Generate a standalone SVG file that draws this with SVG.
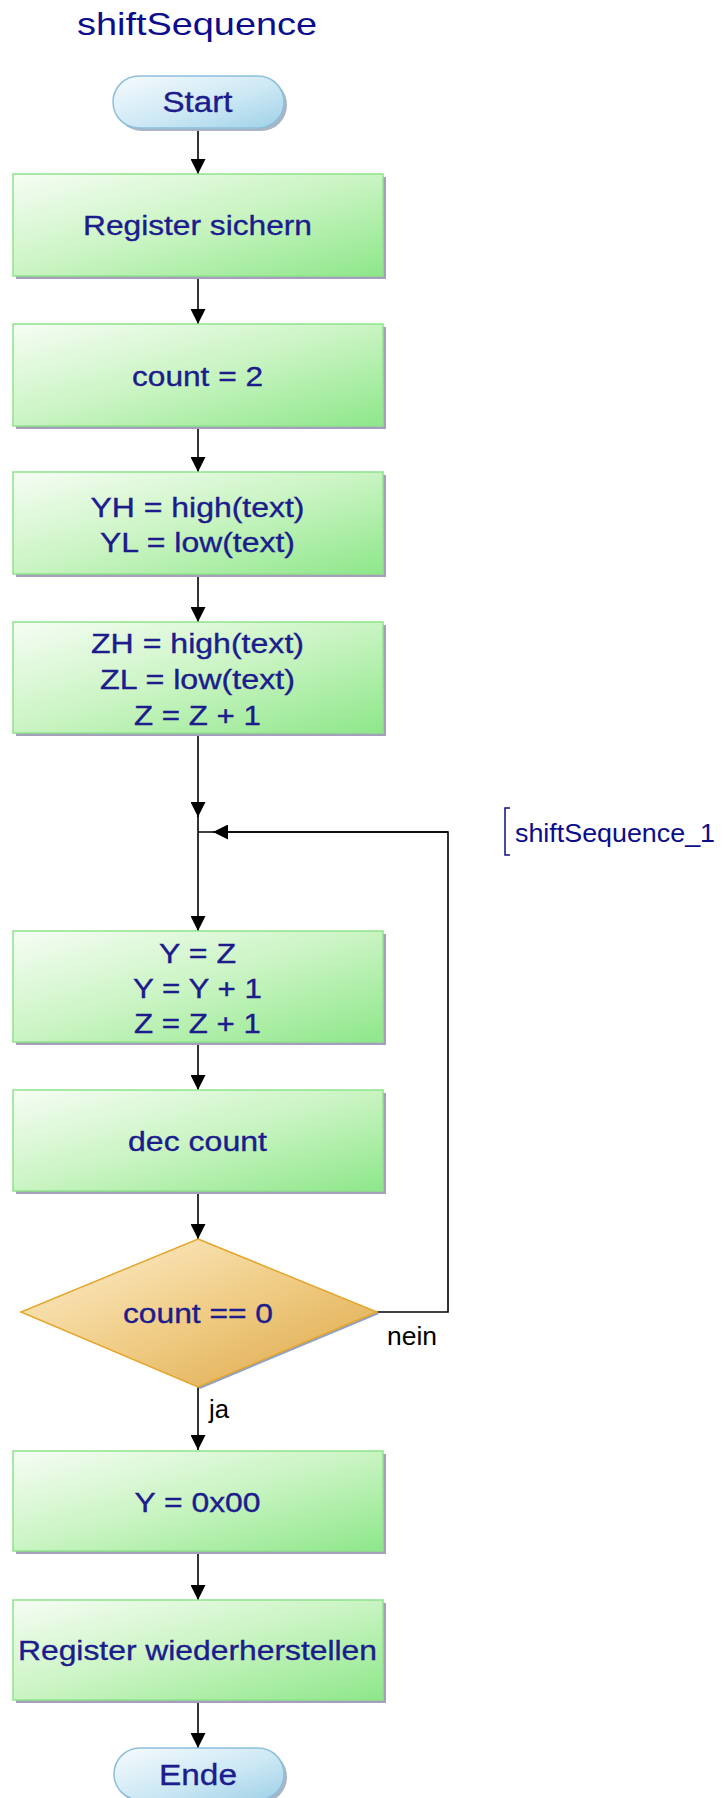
<svg xmlns="http://www.w3.org/2000/svg" width="725" height="1798" viewBox="0 0 725 1798">
  <defs>
    <linearGradient id="gProc" x1="0" y1="0" x2="1" y2="1">
      <stop offset="0" stop-color="#f6fdf4"/>
      <stop offset="0.5" stop-color="#c9f4c2"/>
      <stop offset="1" stop-color="#8ee78a"/>
    </linearGradient>
    <linearGradient id="gTerm" x1="0" y1="0" x2="1" y2="1">
      <stop offset="0" stop-color="#f6fbfe"/>
      <stop offset="0.55" stop-color="#cde8f4"/>
      <stop offset="1" stop-color="#9fd1e8"/>
    </linearGradient>
    <linearGradient id="gDec" x1="0" y1="0" x2="1" y2="1">
      <stop offset="0" stop-color="#fdf0d2"/>
      <stop offset="0.5" stop-color="#f0cd86"/>
      <stop offset="1" stop-color="#dca646"/>
    </linearGradient>
    <marker id="arrow" viewBox="0 0 15 15" refX="15" refY="7.5" markerWidth="15" markerHeight="15" markerUnits="userSpaceOnUse" orient="auto">
      <path d="M0,0 L15,7.5 L0,15 Z" fill="#000"/>
    </marker>
  </defs>
  <style>
    .proc { fill: url(#gProc); stroke: #8fe48b; stroke-width: 1.5; }
    .term { fill: url(#gTerm); stroke: #8dbfdc; stroke-width: 1.5; }
    .dec { fill: url(#gDec); stroke: #e6a52c; stroke-width: 1.5; }
    .shadow { fill: #a49fbb; }
    .tshadow { fill: #a9b4c4; }
    .lbl { font-family: "Liberation Sans", Arial, sans-serif; font-size: 27.5px; fill: #1c1c8c; stroke: #1c1c8c; stroke-width: 0.35; text-anchor: middle; }
    .tlbl { font-family: "Liberation Sans", Arial, sans-serif; font-size: 30px; fill: #1c1c8c; stroke: #1c1c8c; stroke-width: 0.35; text-anchor: middle; }
    .edge { fill: none; stroke: #000; stroke-width: 1.6; }
    .elbl { font-family: "Liberation Sans", Arial, sans-serif; font-size: 26px; fill: #000; }
    .title { font-family: "Liberation Sans", Arial, sans-serif; font-size: 32px; fill: #0c0c8c; }
    .ref { font-family: "Liberation Sans", Arial, sans-serif; font-size: 25px; fill: #0c0c8c; }
  </style>
  <rect width="725" height="1798" fill="#fff"/>

  <text class="title" x="77" y="35" textLength="240" lengthAdjust="spacingAndGlyphs">shiftSequence</text>

  <!-- connectors -->
  <g id="connectors">
    <path class="edge" d="M198,128 V174" marker-end="url(#arrow)"/>
    <path class="edge" d="M198,276 V324" marker-end="url(#arrow)"/>
    <path class="edge" d="M198,426 V472" marker-end="url(#arrow)"/>
    <path class="edge" d="M198,574 V622" marker-end="url(#arrow)"/>
    <path class="edge" d="M198,733 V817" marker-end="url(#arrow)"/>
    <path class="edge" d="M198,815 V832"/>
    <path class="edge" d="M198,832 V931" marker-end="url(#arrow)"/>
    <path class="edge" d="M198,1042 V1090" marker-end="url(#arrow)"/>
    <path class="edge" d="M198,1191 V1239" marker-end="url(#arrow)"/>
    <path class="edge" d="M198,1387 V1450" marker-end="url(#arrow)"/>
    <path class="edge" d="M198,1551 V1600" marker-end="url(#arrow)"/>
    <path class="edge" d="M198,1700 V1748" marker-end="url(#arrow)"/>
    <path class="edge" d="M377,1312 H448 V832 H198"/>
    <path class="edge" d="M448,832 H213" marker-end="url(#arrow)"/>
    <text class="elbl" x="387" y="1345" textLength="50" lengthAdjust="spacingAndGlyphs">nein</text>
    <text class="elbl" x="209" y="1418" textLength="20" lengthAdjust="spacingAndGlyphs">ja</text>
  </g>

  <g id="start">
    <rect class="tshadow" x="116" y="79" width="171" height="52" rx="26"/>
    <rect class="term" x="113" y="76" width="171" height="52" rx="26"/>
    <text class="tlbl" x="197.5" y="112" textLength="70" lengthAdjust="spacingAndGlyphs">Start</text>
  </g>

  <g id="register-sichern">
    <rect class="shadow" x="16" y="177" width="370" height="102"/>
    <rect class="proc" x="13" y="174" width="370" height="102"/>
    <text class="lbl" x="197.5" y="235" textLength="229" lengthAdjust="spacingAndGlyphs">Register sichern</text>
  </g>

  <g id="count-init">
    <rect class="shadow" x="16" y="327" width="370" height="102"/>
    <rect class="proc" x="13" y="324" width="370" height="102"/>
    <text class="lbl" x="197.5" y="386" textLength="131" lengthAdjust="spacingAndGlyphs">count = 2</text>
  </g>

  <g id="y-init">
    <rect class="shadow" x="16" y="475" width="370" height="102"/>
    <rect class="proc" x="13" y="472" width="370" height="102"/>
    <text class="lbl" x="197.5" y="517" textLength="214" lengthAdjust="spacingAndGlyphs">YH = high(text)</text>
    <text class="lbl" x="197.5" y="552" textLength="195" lengthAdjust="spacingAndGlyphs">YL = low(text)</text>
  </g>

  <g id="z-init">
    <rect class="shadow" x="16" y="625" width="370" height="111"/>
    <rect class="proc" x="13" y="622" width="370" height="111"/>
    <text class="lbl" x="197.5" y="653" textLength="213" lengthAdjust="spacingAndGlyphs">ZH = high(text)</text>
    <text class="lbl" x="197.5" y="689" textLength="195" lengthAdjust="spacingAndGlyphs">ZL = low(text)</text>
    <text class="lbl" x="197.5" y="725" textLength="127" lengthAdjust="spacingAndGlyphs">Z = Z + 1</text>
  </g>

  <g id="loop-label">
    <path d="M510,808 H505 V855 H510" fill="none" stroke="#0c0c8c" stroke-width="1.5"/>
    <text class="ref" x="515" y="842" textLength="200" lengthAdjust="spacingAndGlyphs">shiftSequence_1</text>
  </g>

  <g id="shift-step">
    <rect class="shadow" x="16" y="934" width="370" height="111"/>
    <rect class="proc" x="13" y="931" width="370" height="111"/>
    <text class="lbl" x="197.5" y="963" textLength="77" lengthAdjust="spacingAndGlyphs">Y = Z</text>
    <text class="lbl" x="197.5" y="998" textLength="129" lengthAdjust="spacingAndGlyphs">Y = Y + 1</text>
    <text class="lbl" x="197.5" y="1033" textLength="127" lengthAdjust="spacingAndGlyphs">Z = Z + 1</text>
  </g>

  <g id="dec-count">
    <rect class="shadow" x="16" y="1093" width="370" height="101"/>
    <rect class="proc" x="13" y="1090" width="370" height="101"/>
    <text class="lbl" x="197.5" y="1151" textLength="139" lengthAdjust="spacingAndGlyphs">dec count</text>
  </g>

  <g id="count-check">
    <path d="M200,1389 L379,1314 L377,1312 L198,1387 Z" fill="#8fa2c0"/>
    <polygon class="dec" points="198,1239 377,1312 198,1387 21,1312"/>
    <text class="lbl" x="198" y="1323" textLength="150" lengthAdjust="spacingAndGlyphs">count == 0</text>
  </g>

  <g id="y-clear">
    <rect class="shadow" x="16" y="1454" width="370" height="100"/>
    <rect class="proc" x="13" y="1451" width="370" height="100"/>
    <text class="lbl" x="197.5" y="1512" textLength="126" lengthAdjust="spacingAndGlyphs">Y = 0x00</text>
  </g>

  <g id="register-restore">
    <rect class="shadow" x="16" y="1603" width="370" height="100"/>
    <rect class="proc" x="13" y="1600" width="370" height="100"/>
    <text class="lbl" x="197.5" y="1660" textLength="359" lengthAdjust="spacingAndGlyphs">Register wiederherstellen</text>
  </g>

  <g id="end">
    <rect class="tshadow" x="117" y="1751" width="170" height="52" rx="26"/>
    <rect class="term" x="114" y="1748" width="170" height="52" rx="26"/>
    <text class="tlbl" x="198" y="1785" textLength="78" lengthAdjust="spacingAndGlyphs">Ende</text>
  </g>
</svg>
